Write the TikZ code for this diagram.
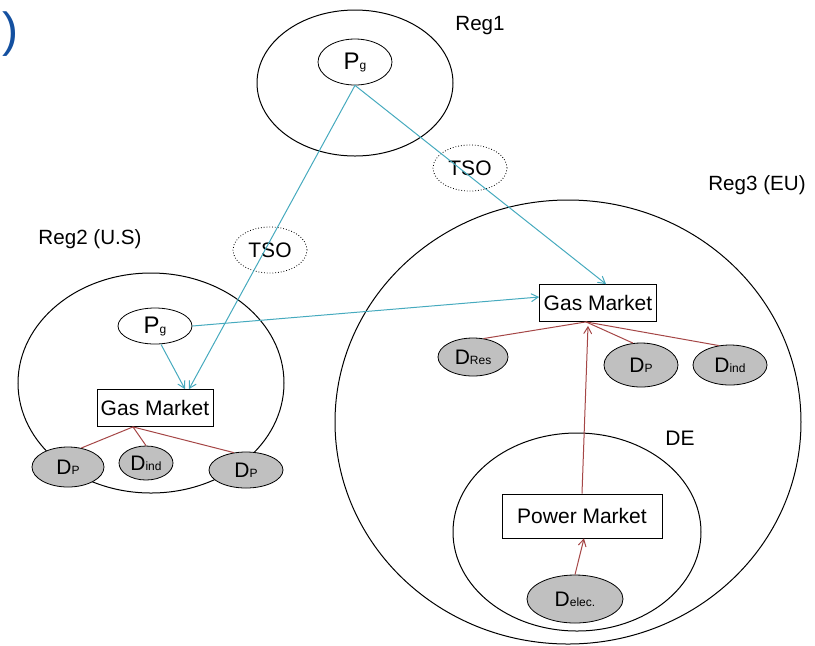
\documentclass[tikz,border=0pt]{standalone}
\usepackage{amsmath}
\usepackage{xcolor}
\usepackage{fontspec}
\setmainfont{Liberation Sans}
\usetikzlibrary{shapes.geometric}
\usetikzlibrary{arrows}

\definecolor{pipe}{RGB}{70,170,190}
\definecolor{link}{RGB}{165,70,70}
\definecolor{demand}{RGB}{192,192,192}
\definecolor{paren}{RGB}{20,80,160}

\tikzset{
  prod/.style = {draw, ellipse, inner sep = 0pt, font = \fontsize{12}{14}\selectfont},
  tso/.style = {draw, ellipse, densely dotted, inner sep = 0pt, minimum width = 37pt, minimum height = 23pt, font = \fontsize{10.5}{12}\selectfont},
  market/.style = {draw, rectangle, inner sep = 0pt, font = \fontsize{10.5}{12}\selectfont},
  dem/.style = {draw, ellipse, fill = demand, inner sep = 0pt, font = \fontsize{10.5}{12}\selectfont},
  region/.style = {font = \fontsize{10.3}{12}\selectfont},
  pipeline/.style = {color = pipe, ->, >=angle 60, line width = 0.5pt},
  supply/.style = {color = link, line width = 0.5pt}
}
\newcommand{\subtxt}[1]{{\fontsize{6}{7}\selectfont #1}}

\begin{document}
\begin{tikzpicture}[x = 0.5pt, y = -0.5pt]
\useasboundingbox (0, 0) rectangle (815, 645);

% regions
\draw[line width = 0.5pt] (355, 83) ellipse (98 and 73);
\draw[line width = 0.5pt] (151, 383) ellipse (133 and 110);
\draw[line width = 0.5pt] (568, 422) ellipse (233 and 222);
\filldraw[color = black, fill = white, line width = 0.5pt] (577, 532) ellipse (124 and 99);

\node[text = paren, font = \fontsize{24}{26}\selectfont] (paren) at (10, 34) {)};
\node[region] (reg1) at (480, 26) {Reg1};
\node[region] (reg2) at (90, 239) {Reg2 (U.S)};
\node[region] (reg3) at (757, 185) {Reg3 (EU)};
\node[font = \fontsize{10.5}{12}\selectfont] (de) at (680, 438) {DE};

% producers and tso
\node[prod, minimum width = 37pt, minimum height = 23pt] (pg1) at (355, 62) {P\subtxt{g}};
\node[prod, minimum width = 37pt, minimum height = 18pt] (pg2) at (155, 326) {P\subtxt{g}};
\node[tso] (tso1) at (470, 168) {TSO};
\node[tso] (tso2) at (270, 250) {TSO};

% markets
\node[market, minimum width = 58pt, minimum height = 18.5pt] (gm2) at (155, 408) {Gas Market};
\node[market, minimum width = 58.5pt, minimum height = 18.5pt] (gm3) at (598, 303) {Gas Market};
\node[market, minimum width = 80pt, minimum height = 22pt] (pm) at (582, 516) {Power Market};

% demands
\node[dem, minimum width = 36pt, minimum height = 20pt] (dp1) at (68, 467) {D\subtxt{P}};
\node[dem, minimum width = 27pt, minimum height = 17pt] (dind2) at (146, 463) {D\subtxt{ind}};
\node[dem, minimum width = 37pt, minimum height = 18pt] (dp2) at (246, 470) {D\subtxt{P}};
\node[dem, minimum width = 35pt, minimum height = 19pt] (dres) at (473, 357) {D\subtxt{Res}};
\node[dem, minimum width = 37pt, minimum height = 22pt] (dp3) at (641, 365) {D\subtxt{P}};
\node[dem, minimum width = 37pt, minimum height = 20pt] (dind3) at (730, 365) {D\subtxt{ind}};
\node[dem, minimum width = 48pt, minimum height = 24pt] (delec) at (575, 599) {D\subtxt{elec.}};

% gas flows
\draw[pipeline] (pg1.south) -- ([xshift = 17pt]gm2.north);
\draw[pipeline] (pg1.south) -- ([xshift = 4pt]gm3.north);
\draw[pipeline] (pg2.east) -- ([yshift = 3pt]gm3.west);
\draw[pipeline] ([xshift = 3pt]pg2.south) -- ([xshift = 15pt]gm2.north);

% demand links
\draw[supply] ([xshift = -11pt]gm2.south) -- (dp1.55);
\draw[supply] ([xshift = -11pt]gm2.south) -- (dind2.north);
\draw[supply] ([xshift = -11pt]gm2.south) -- (dp2.125);
\draw[supply] ([xshift = -6pt]gm3.south) -- (dres.60);
\draw[supply] ([xshift = -6pt]gm3.south) -- (dp3.110);
\draw[supply] ([xshift = -6pt]gm3.south) -- (dind3.120);
\draw[supply, ->, >=angle 60] (pm.north) -- ([xshift = -5pt, yshift = -2pt]gm3.south);
\draw[supply, ->, >=angle 60] (delec.north) -- ([xshift = 1pt]pm.south);
\end{tikzpicture}
\end{document}
